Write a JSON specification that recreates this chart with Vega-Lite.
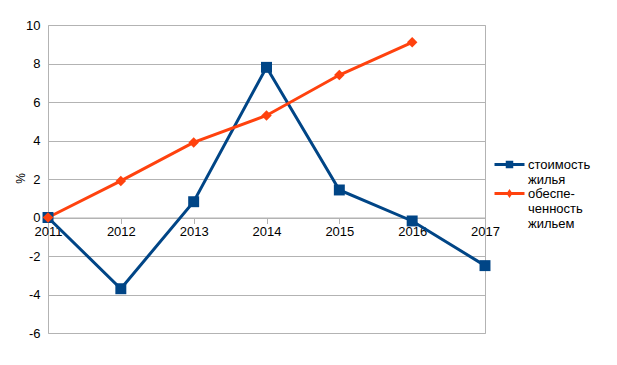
{
  "$schema": "https://vega.github.io/schema/vega-lite/v6.json",
  "width": 437,
  "height": 308,
  "autosize": {"type": "none"},
  "padding": {"left": 48, "top": 25, "right": 132, "bottom": 32},
  "background": "white",
  "config": {
    "font": "Liberation Sans",
    "view": {"stroke": "#b3b3b3", "strokeWidth": 1},
    "axis": {"labelFont": "Liberation Sans", "labelFontSize": 13, "labelColor": "#000000", "titleFont": "Liberation Sans"}
  },
  "data": {
    "values": [
      {"year": "2011", "series": "стоимость жилья", "value": 0},
      {"year": "2012", "series": "стоимость жилья", "value": -3.7},
      {"year": "2013", "series": "стоимость жилья", "value": 0.82},
      {"year": "2014", "series": "стоимость жилья", "value": 7.8},
      {"year": "2015", "series": "стоимость жилья", "value": 1.43},
      {"year": "2016", "series": "стоимость жилья", "value": -0.18},
      {"year": "2017", "series": "стоимость жилья", "value": -2.5},
      {"year": "2011", "series": "обеспеченность жильем", "value": 0},
      {"year": "2012", "series": "обеспеченность жильем", "value": 1.9},
      {"year": "2013", "series": "обеспеченность жильем", "value": 3.9},
      {"year": "2014", "series": "обеспеченность жильем", "value": 5.3},
      {"year": "2015", "series": "обеспеченность жильем", "value": 7.4},
      {"year": "2016", "series": "обеспеченность жильем", "value": 9.1}
    ]
  },
  "encoding": {
    "x": {
      "field": "year", "type": "ordinal",
      "scale": {"type": "point", "padding": 0},
      "axis": {"title": null, "labelAngle": 0, "grid": false, "domain": true, "domainColor": "#b3b3b3", "ticks": true, "tickSize": 6, "tickColor": "#b3b3b3", "labelPadding": 2, "offset": -115.5}
    },
    "y": {
      "field": "value", "type": "quantitative",
      "scale": {"domain": [-6, 10], "nice": false, "zero": false},
      "axis": {"title": "%", "titleFontSize": 12, "titleFontWeight": "normal", "titleColor": "#000000", "titleX": -21, "titleY": 153, "values": [-6, -4, -2, 0, 2, 4, 6, 8, 10], "labelExpr": "toString(datum.value)", "grid": true, "gridColor": "#b3b3b3", "domain": false, "ticks": false, "labelPadding": 8}
    }
  },
  "layer": [
    {
      "mark": {"type": "line", "strokeWidth": 3},
      "encoding": {
        "color": {"field": "series", "type": "nominal",
          "scale": {"domain": ["стоимость жилья", "обеспеченность жильем"], "range": ["#004586", "#ff420e"]}}
      }
    },
    {
      "transform": [{"filter": "datum.series == 'стоимость жилья'"}],
      "mark": {"type": "point", "shape": "square", "filled": true, "size": 120, "opacity": 1, "color": "#004586"}
    },
    {
      "transform": [{"filter": "datum.series == 'обеспеченность жильем'"}],
      "mark": {"type": "point", "shape": "diamond", "filled": true, "size": 110, "opacity": 1, "color": "#ff420e"}
    },
    {
      "mark": {"type": "point", "filled": true, "opacity": 1, "size": 0},
      "encoding": {
        "color": {"field": "series", "type": "nominal",
          "legend": {"title": null, "orient": "none", "legendX": 455, "legendY": 133, "symbolSize": 100, "symbolOpacity": 1, "symbolStrokeWidth": 0, "labelFont": "Liberation Sans", "labelFontSize": 13, "labelColor": "#000000", "labelOffset": 12, "labelLimit": 0, "rowPadding": 0,
            "labelExpr": "datum.label == 'стоимость жилья' ? ['стоимость', 'жилья'] : ['обеспе-', 'ченность', 'жильем']"}},
        "shape": {"field": "series", "type": "nominal",
          "scale": {"domain": ["стоимость жилья", "обеспеченность жильем"], "range": ["M-3,-0.3H3V0.3H-3Z M-0.75,-0.75H0.75V0.75H-0.75Z", "M-3,-0.3H3V0.3H-3Z M0,-0.9L0.6,0L0,0.9L-0.6,0Z"]},
          "legend": {"title": null}}
      }
    }
  ]
}
